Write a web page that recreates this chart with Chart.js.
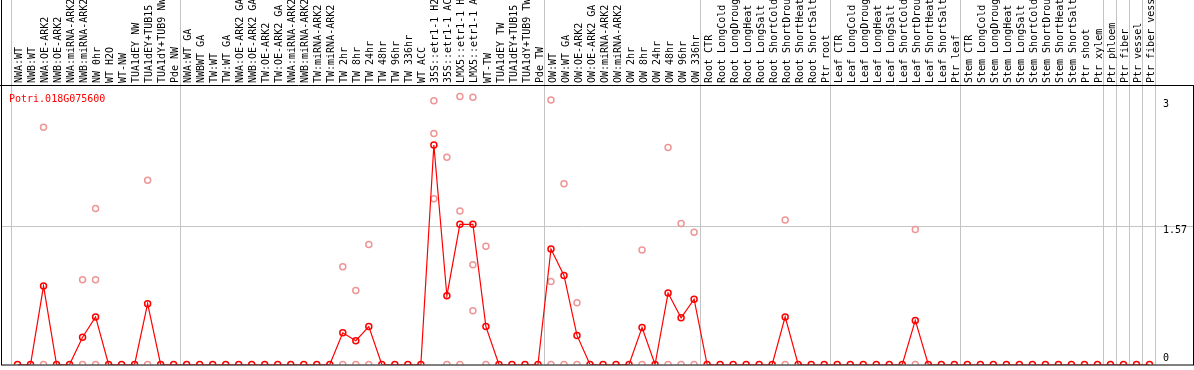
<!DOCTYPE html>
<html>
<head>
<meta charset="utf-8">
<script src="https://cdn.jsdelivr.net/npm/chart.js@4/dist/chart.umd.min.js"></script>
<style>
  html, body { margin: 0; padding: 0; background: #fff; }
</style>
</head>
<body>
<canvas id="myChart" width="1194" height="370"></canvas>
<script>
var geneName = 'Potri.018G075600';

// Sample names, one per column
var labels = [
  // NW
  'NWA:WT', 'NWB:WT', 'NWA:OE-ARK2', 'NWB:OE-ARK2', 'NWA:miRNA-ARK2', 'NWB:miRNA-ARK2',
  'NW 0hr', 'WT H2O', 'WT-NW', 'TUA1dEY NW', 'TUA1dEY+TUB15 NW', 'TUA1dY+TUB9 NW', 'Pde NW',
  // TW
  'NWA:WT GA', 'NWBWT GA', 'TW:WT', 'TW:WT GA', 'NWA:OE-ARK2 GA', 'NWB:OE-ARK2 GA',
  'TW:OE-ARK2', 'TW:OE-ARK2 GA', 'NWA:miRNA-ARK2', 'NWB:miRNA-ARK2', 'TW:miRNA-ARK2', 'TW:miRNA-ARK2',
  'TW 2hr', 'TW 8hr', 'TW 24hr', 'TW 48hr', 'TW 96hr', 'TW 336hr', 'WT ACC',
  '35S::etr1-1 H2O', '35S::etr1-1 ACC', 'LMX5::etr1-1 H2O', 'LMX5::etr1-1 ACC',
  'WT-TW', 'TUA1dEY TW', 'TUA1dEY+TUB15 TW', 'TUA1dY+TUB9 TW', 'Pde TW',
  // OW
  'OW:WT', 'OW:WT GA', 'OW:OE-ARK2', 'OW:OE-ARK2 GA', 'OW:miRNA-ARK2', 'OW:miRNA-ARK2',
  'OW 2hr', 'OW 8hr', 'OW 24hr', 'OW 48hr', 'OW 96hr', 'OW 336hr',
  // root
  'Root CTR', 'Root LongCold', 'Root LongDrought', 'Root LongHeat', 'Root LongSalt',
  'Root ShortCold', 'Root ShortDrought', 'Root ShortHeat', 'Root ShortSalt', 'Ptr root',
  // leaf
  'Leaf CTR', 'Leaf LongCold', 'Leaf LongDrought', 'Leaf LongHeat', 'Leaf LongSalt',
  'Leaf ShortCold', 'Leaf ShortDrought', 'Leaf ShortHeat', 'Leaf ShortSalt', 'Ptr leaf',
  // stem
  'Stem CTR', 'Stem LongCold', 'Stem LongDrought', 'Stem LongHeat', 'Stem LongSalt',
  'Stem ShortCold', 'Stem ShortDrought', 'Stem ShortHeat', 'Stem ShortSalt',
  'Ptr shoot', 'Ptr xylem', 'Ptr phloem', 'Ptr fiber', 'Ptr vessel', 'Ptr fiber vessel'
];

// Mean expression (red line)
var expression = [
  0, 0, 0.89, 0, 0, 0.31, 0.54, 0, 0, 0, 0.69, 0, 0,
  0, 0, 0, 0, 0, 0, 0, 0, 0, 0, 0, 0,
  0.36, 0.27, 0.43, 0, 0, 0, 0, 2.49, 0.78, 1.59, 1.59, 0.43, 0, 0, 0, 0,
  1.31, 1.01, 0.33, 0, 0, 0, 0, 0.42, 0, 0.81, 0.53, 0.74,
  0, 0, 0, 0, 0, 0, 0.54, 0, 0, 0,
  0, 0, 0, 0, 0, 0, 0.50, 0, 0, 0,
  0, 0, 0, 0, 0, 0, 0, 0, 0, 0, 0, 0, 0, 0, 0
];

// Replicates (pink circles), null where there is none
var repA = [
  null, null, 2.69, null, null, 0.96, 1.77, null, null, null, 2.09, null, null,
  null, null, null, null, null, null, null, null, null, null, null, null,
  1.11, 0.84, 1.36, null, null, null, null, 2.99, 2.35, 3.04, 3.03, 1.34, null, null, null, null,
  3.00, 2.05, 0.70, null, null, null, null, 1.30, null, 2.46, 1.60, 1.50,
  null, null, null, null, null, null, 1.64, null, null, null,
  null, null, null, null, null, null, 1.53, null, null, null,
  null, null, null, null, null, null, null, null, null, null, null, null, null, null, null
];
var repB = [
  null, null, 0, null, null, 0, 0.96, null, null, null, 0, null, null,
  null, null, null, null, null, null, null, null, null, null, null, null,
  0, 0, 0, null, null, null, null, 2.62, 0, 1.74, 1.13, 0, null, null, null, null,
  0.94, 0, 0, null, null, null, null, 0, null, 0, 0, 0,
  null, null, null, null, null, null, 0, null, null, null,
  null, null, null, null, null, null, 0, null, null, null,
  null, null, null, null, null, null, null, null, null, null, null, null, null, null, null
];
var repC = [
  null, null, null, null, null, null, 0, null, null, null, null, null, null,
  null, null, null, null, null, null, null, null, null, null, null, null,
  null, null, null, null, null, null, null, 1.88, null, 0, 0.61, null, null, null, null, null,
  0, null, null, null, null, null, null, null, null, null, null, null,
  null, null, null, null, null, null, null, null, null, null,
  null, null, null, null, null, null, null, null, null, null,
  null, null, null, null, null, null, null, null, null, null, null, null, null, null, null
];

// Columns that start a new group (gray separator on their left); 88 = right edge
var groupStarts = [0, 13, 41, 53, 63, 73, 84, 85, 86, 87, 88];
var yTicks = [0, 1.57, 3];
var yMax = 3.17;

var gray = '#c4c4c4';
var pink = 'rgb(238,150,150)';
var monoFont = { family: 'DejaVu Sans Mono', size: 10 };

function xGridColor(c) {
  var i = c.type === 'tick' ? c.index : labels.length;
  return groupStarts.indexOf(i) >= 0 ? gray : 'rgba(0,0,0,0)';
}

function yGridColor(c) {
  return c.tick && c.tick.value === 1.57 ? gray : 'rgba(0,0,0,0)';
}

function setYTicks(scale) {
  scale.ticks = yTicks.map(function(v) { return { value: v }; });
}

function noPadding(scale) {
  scale.paddingLeft = scale.paddingRight = scale.paddingTop = scale.paddingBottom = 0;
}

// frame, gene name and y labels
var decorPlugin = {
  id: 'decor',
  afterDraw: function(chart) {
    var c = chart.ctx;
    var area = chart.chartArea;
    var y = chart.scales.y;
    c.save();
    c.strokeStyle = '#000';
    c.lineWidth = 1;
    c.beginPath();
    c.moveTo(0, area.top + 0.5); c.lineTo(chart.width, area.top + 0.5);
    c.moveTo(1.5, 0); c.lineTo(1.5, area.bottom + 0.5);
    c.moveTo(1, area.bottom + 0.5); c.lineTo(y.right, area.bottom + 0.5);
    c.moveTo(y.right + 0.5, area.top); c.lineTo(y.right + 0.5, area.bottom + 1);
    c.stroke();

    c.font = '10px "DejaVu Sans Mono"';
    c.textAlign = 'left';
    c.fillStyle = 'red';
    c.textBaseline = 'alphabetic';
    c.fillText(geneName, area.left - 2, area.top + 16.5);

    c.fillStyle = '#000';
    c.textBaseline = 'middle';
    y.ticks.forEach(function(t) {
      var py = Math.min(y.getPixelForValue(t.value) + 4.5, area.bottom - 6);
      c.fillText(t.label, y.left + 7, py);
    });
    c.restore();
  }
};

var ctx = document.getElementById('myChart').getContext('2d');
var chart = new Chart(ctx, {
  type: 'line',
  data: {
    labels: labels,
    datasets: [{
      label: geneName,
      data: expression,
      borderColor: 'red',
      borderWidth: 1.2,
      pointRadius: 3,
      pointBorderWidth: 1.5,
      pointBorderColor: 'red',
      pointBackgroundColor: 'rgba(0,0,0,0)',
      fill: false,
      tension: 0
    }, {
      label: 'rep A',
      data: repA,
      showLine: false,
      pointRadius: 3,
      pointBorderWidth: 1.5,
      pointBorderColor: pink,
      pointBackgroundColor: 'rgba(0,0,0,0)'
    }, {
      label: 'rep B',
      data: repB,
      showLine: false,
      pointRadius: 3,
      pointBorderWidth: 1.5,
      pointBorderColor: pink,
      pointBackgroundColor: 'rgba(0,0,0,0)'
    }, {
      label: 'rep C',
      data: repC,
      showLine: false,
      pointRadius: 3,
      pointBorderWidth: 1.5,
      pointBorderColor: pink,
      pointBackgroundColor: 'rgba(0,0,0,0)'
    }]
  },
  options: {
    responsive: false,
    animation: false,
    events: [],
    layout: { padding: { left: 1, right: 1, top: 0, bottom: 1 } },
    plugins: {
      legend: { display: false },
      tooltip: { enabled: false }
    },
    scales: {
      x: {
        position: 'top',
        offset: true,
        afterFit: function(scale) { scale.height = 85; noPadding(scale); },
        grid: { offset: true, color: xGridColor, tickLength: 85, lineWidth: 1 },
        border: { display: false },
        ticks: {
          autoSkip: false,
          minRotation: 90,
          maxRotation: 90,
          padding: -83,
          labelOffset: 14,
          color: '#000',
          font: monoFont
        }
      },
      y: {
        position: 'right',
        min: 0,
        max: yMax,
        afterBuildTicks: setYTicks,
        afterFit: function(scale) { scale.width = 37; noPadding(scale); },
        grid: { color: yGridColor, tickLength: 37 },
        border: { display: false },
        ticks: {
          display: false,
          callback: function(v) { return String(v); }
        }
      },
      yLeft: {
        position: 'left',
        min: 0,
        max: yMax,
        afterBuildTicks: setYTicks,
        afterFit: function(scale) { scale.width = 10; noPadding(scale); },
        grid: { color: yGridColor, tickLength: 10, drawOnChartArea: false },
        border: { display: false },
        ticks: { display: false }
      }
    }
  },
  plugins: [decorPlugin]
});
</script>
</body>
</html>
